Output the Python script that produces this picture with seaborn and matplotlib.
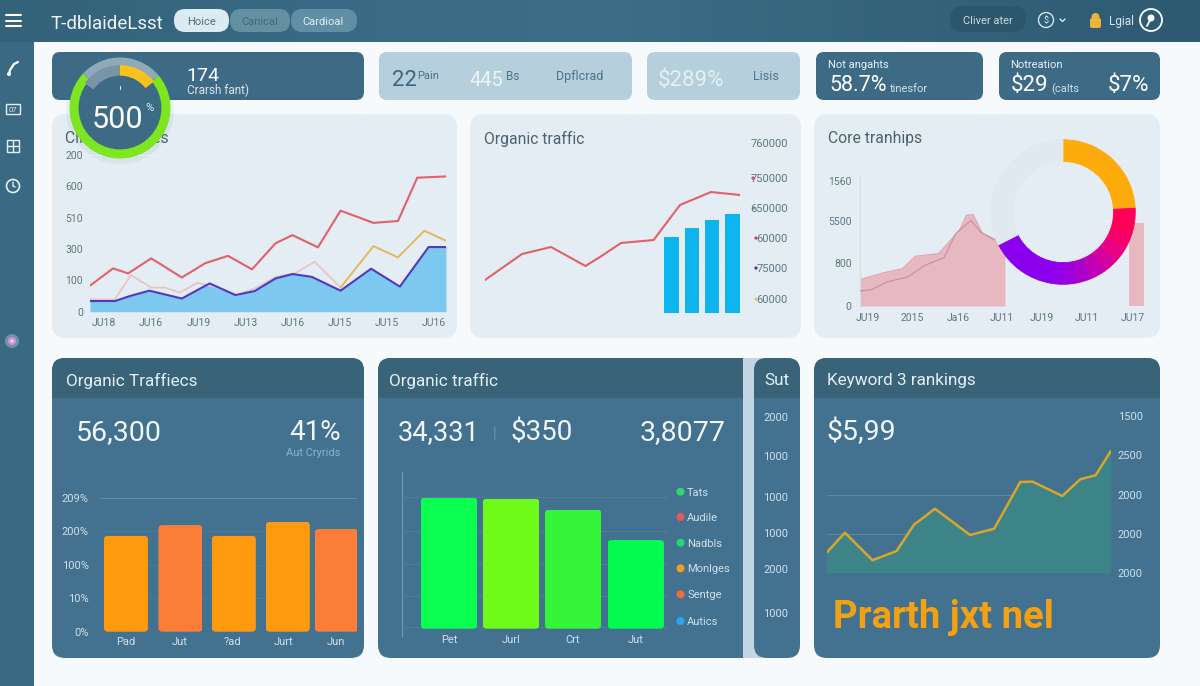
import numpy as np
import matplotlib
matplotlib.use("Agg")
import matplotlib.pyplot as plt
from matplotlib.patches import FancyBboxPatch, Circle, Rectangle
from matplotlib.colors import to_rgb
import seaborn as sns

sns.set_theme(style="white")
plt.rcParams['font.family'] = ['Roboto', 'DejaVu Sans']

# ---------- data ----------
clicks_red_x = [-.30, .19, .51, 1.0, 1.65, 2.14, 2.63, 3.14, 3.64, 4.0, 4.54, 5.02, 5.72, 6.24, 6.65, 7.26]
clicks_red = [83, 138, 122, 170, 109, 154, 178, 135, 218, 244, 205, 322, 283, 289, 427, 431]
clicks_pale_x = [-.30, .23, .57, 1.0, 1.28, 1.61, 1.98, 2.34, 2.83, 3.24, 3.64, 4.05, 4.47, 5.02]
clicks_pale = [39, 39, 117, 77, 77, 61, 92, 80, 53, 77, 111, 122, 159, 77]
clicks_gold_x = [5.02, 5.72, 6.24, 6.80, 7.26]
clicks_gold = [77, 209, 173, 258, 226]
clicks_blue_x = [-.30, .23, .55, .96, 1.65, 2.24, 2.79, 3.20, 3.64, 4.0, 4.41, 5.02, 5.67, 6.28, 6.89, 7.26]
clicks_blue = [34, 34, 50, 67, 42, 90, 53, 66, 106, 120, 111, 67, 137, 80, 206, 206]
clicks_xlabels = ["JU18", "JU16", "JU19", "JU13", "JU16", "JU15", "JU15", "JU16"]
clicks_ylabels = ["0", "100", "300", "510", "600", "200"]

organic_x = [0, 37, 66, 100.5, 115, 136, 168.6, 195, 226, 255]
organic_line = [33, 59, 66, 47, 56, 70, 73, 108, 121, 118]
organic_bar_x = [186.5, 207, 227, 247.5]
organic_bars = [76, 85, 93, 99]
organic_ylabels = ["60000", "75000", "60000", "650000", "750000", "760000"]

core_x = [0, 23, 42.3, 55.5, 78.5, 99.5, 106.5, 113, 122.7, 134, 145]
core_top = [263, 330, 373, 497, 523, 757, 907, 913, 723, 673, 573]
core_right_x = [269, 284]
core_right = [830, 830]
core_inner_x = [0, 11.5, 26.8, 47.8, 65, 84, 95.7, 111, 120.5, 134]
core_inner = [150, 163, 240, 290, 407, 483, 723, 857, 740, 663]
core_ylabels = ["0", "800", "5500", "1560"]
core_xlabels = ["JU19", "2015", "Ja16", "JU11", "JU19", "JU11", "JU17"]

donut_values = [87, 22, 12, 12, 12, 12, 12, 10, 10, 54, 117]
donut_colors = ["#fdaa0a", "#ff0058", "#f6006e", "#e80085", "#d5009d", "#c000b5",
                "#ad00cb", "#9c00dd", "#9000e8", "#8a00ee", "#dfe9ef"]

gauge_ring = [263, 97]
gauge_arc = [52, 55, 253]

traffic_slots = [0, 1, 1.98, 2.97, 3.87]
traffic_bars = [28.7, 31.9, 28.7, 32.9, 30.7]
traffic_colors = ["#ff9a0e", "#fb7d38", "#ff9a0e", "#ff9a0e", "#fb7d38"]
traffic_xlabels = ["Pad", "Jut", "?ad", "Jurt", "Jun"]
traffic_ylabels = ["0%", "10%", "100%", "200%", "209%"]

green_slots = [0, 1, 2, 3.01]
green_bars = [131, 130, 119, 88.7]
green_colors = ["#0aff50", "#6dfb1a", "#35f53a", "#03fa50"]
green_xlabels = ["Pet", "Jurl", "Crt", "Jut"]

legend_labels = ["Tats", "Audile", "Nadbls", "Monlges", "Sentge", "Autics"]
legend_colors = ["#2ed86a", "#e8565e", "#22d873", "#f0a020", "#e8703f", "#22a9ee"]

sut_labels = ["2000", "1000", "1000", "1000", "2000", "1000"]

keyword_x = [0, 18.3, 45.9, 70, 87.2, 108.3, 143.4, 167.6, 193.6, 205.9, 235.7, 253.7, 269, 284.3]
keyword_vals = [256, 512, 159, 278, 611, 819, 483, 563, 1161, 1165, 982, 1196, 1247, 1558]
keyword_ylabels = ["2000", "2000", "2000", "2500", "1500"]

# ---------- figure ----------
W, H = 1200, 686
fig = plt.figure(figsize=(12, 6.86), dpi=100, facecolor="#f6fafd")
bg = fig.add_axes([0, 0, 1, 1], zorder=0)
bg.set_xlim(0, W); bg.set_ylim(H, 0); bg.axis("off")

DARK = "#3d6b86"
BODY = "#42728f"
BAND = "#386378"
LIGHT = "#b6cfdc"
PANEL = "#e3edf3"
INK = "#4d6270"
TICK = "#5f7685"
PALE = "#cfe0ea"


def T(x, y, s, size, color="white", ha="left", va="center_baseline", **kw):
    return bg.text(x, y, s, fontsize=size, color=color, ha=ha, va=va, zorder=6, **kw)


def box(x0, y0, x1, y1, fc, r=8, z=1):
    p = FancyBboxPatch((x0 + r, y0 + r), x1 - x0 - 2 * r, y1 - y0 - 2 * r,
                       boxstyle=f"round,pad={r},rounding_size={r}", fc=fc, ec="none", zorder=z)
    bg.add_patch(p)
    return p


def axes_px(x0, y0, x1, y1, z=2):
    ax = fig.add_axes([x0 / W, 1 - y1 / H, (x1 - x0) / W, (y1 - y0) / H], zorder=z)
    ax.patch.set_alpha(0)
    for s in ax.spines.values():
        s.set_visible(False)
    ax.tick_params(length=0)
    return ax


def round_bars(ax, r):
    ext = ax.get_window_extent()
    (a, b), (c, d) = ax.get_xlim(), ax.get_ylim()
    rx, ry = r * abs(b - a) / ext.width, r * abs(d - c) / ext.height
    for p in ax.patches:
        x, y = p.get_xy()
        w, h = p.get_width(), p.get_height()
        clip = FancyBboxPatch((x + rx, y + ry), w - 2 * rx, h - 2 * ry,
                              boxstyle=f"round,pad={rx},rounding_size={rx}",
                              mutation_aspect=ry / rx, transform=ax.transData)
        p.set_clip_path(clip)


def hgrad(x0, x1, y0, y1, stops, z=0.5):
    n = 200
    pos = np.linspace(0, 1, n)
    cols = np.array([to_rgb(c) for c in stops])
    xp = np.linspace(0, 1, len(stops))
    img = np.stack([np.interp(pos, xp, cols[:, i]) for i in range(3)], axis=1)[None, :, :]
    bg.imshow(img, extent=(x0, x1, y1, y0), aspect="auto", zorder=z)
    bg.set_xlim(0, W); bg.set_ylim(H, 0)


# ---------- chrome ----------
bg.add_patch(Rectangle((0, 0), 34, H, fc="#3a6a83", ec="none", zorder=0.4))
hgrad(0, W, 0, 42, ["#33627a", "#3a6a83", "#3d6e87", "#34637b", "#2e5b73"])
for yy in (15, 20.7, 26):
    bg.plot([6, 21], [yy, yy], color="white", lw=1.5, zorder=6, solid_capstyle="round")
T(51, 22, "T-dblaideLsst", 13.5, "#eef5f8")
box(174, 9, 229, 32, "#dceaf2", r=11, z=2)
box(230, 9, 290, 32, "#64909f", r=11, z=2)
box(291, 9, 357, 32, "#5f8ea5", r=11, z=2)
T(201, 21, "Hoice", 8, "#4f6d7e", ha="center")
T(260, 21, "Canical", 8, "#3f6a7c", ha="center")
T(323, 21, "Cardioal", 8, "#e6f0f4", ha="center")
box(950, 6, 1026, 32, "#2c566c", r=13, z=2)
T(988, 20, "Cliver ater", 8, "#c6d9e2", ha="center")
bg.add_patch(Circle((1046, 20), 7.5, fc="none", ec="#d8e6ec", lw=1, zorder=6))
T(1046, 20, "$", 6.5, "#d8e6ec", ha="center")
bg.plot([1060, 1062.5, 1065], [19, 21.5, 19], color="#d8e6ec", lw=1, zorder=6)
box(1090, 18, 1101, 28, "#e9b43a", r=2, z=6)
bg.add_patch(Circle((1095.5, 17), 4, fc="#e9b43a", ec="none", zorder=6))
T(1109, 20, "Lgial", 8.5, "#dbe8ee")
bg.add_patch(Circle((1151, 20), 11, fc="none", ec="white", lw=1.3, zorder=6))
bg.add_patch(Circle((1151, 18), 3.5, fc="white", ec="none", zorder=6))
bg.plot([1150, 1147], [20, 26], color="white", lw=1.3, zorder=6)

# sidebar icons
bg.plot([9, 10, 14, 18], [75, 70, 64, 62], color="white", lw=1.6, zorder=6)
bg.add_patch(Circle((9, 74), 2, fc="white", ec="none", zorder=6))
bg.add_patch(Rectangle((6, 104), 14, 10, fc="none", ec="#e8f0f4", lw=1, zorder=6))
T(13, 109, "07", 5.5, "#e8f0f4", ha="center")
bg.add_patch(Rectangle((7, 140), 12, 12, fc="none", ec="#e8f0f4", lw=1, zorder=6))
bg.plot([7, 19], [146, 146], color="#e8f0f4", lw=1, zorder=6)
bg.plot([13, 13], [140, 152], color="#e8f0f4", lw=1, zorder=6)
bg.add_patch(Circle((13, 186), 6.5, fc="none", ec="#e8f0f4", lw=1.2, zorder=6))
bg.plot([13, 13, 15], [182, 186, 187], color="#e8f0f4", lw=1, zorder=6)
bg.add_patch(Circle((12, 341), 7, fc="#6e93aa", ec="none", zorder=6))
bg.add_patch(Circle((12, 341), 4, fc="#d58fd0", ec="none", zorder=6.1))
bg.add_patch(Circle((12, 341), 1.5, fc="#f8e8f5", ec="none", zorder=6.2))

# ---------- cards ----------
box(52, 52, 364, 100, DARK)
box(379, 52, 632, 100, LIGHT)
box(647, 52, 800, 100, LIGHT)
box(816, 52, 983, 100, DARK)
box(999, 52, 1160, 100, DARK)
T(186, 74, "174", 14)
T(187, 89, "Crarsh fant)", 8.5, "#d8e6ec")
T(392, 78, "22", 16, "#3d6780")
T(417, 75, "Pain", 8, "#4d7389")
T(470, 78, "445", 14.5, "#eef5f8")
T(506, 75, "Bs", 8.5, "#4d7389")
T(556, 75, "Dpflcrad", 9, "#4d7389")
T(658, 78, "$289%", 16, "#e6f0f4")
T(753, 75, "Lisis", 9, "#4d7389")
T(828, 64, "Not angahts", 8, "#e6f0f4")
T(829, 83, "58.7%", 15.5)
T(890, 88, "tinesfor", 8, "#cfe0ea")
T(1010, 64, "Notreation", 8, "#e6f0f4")
T(1011, 83, "$29", 16)
T(1051, 88, "(calts", 8, "#cfe0ea")
T(1108, 83, "$7%", 16)

# ---------- light panels ----------
for x0, x1 in ((52, 457), (470, 801), (814, 1160)):
    box(x0, 114, x1, 338, PANEL, r=14)
T(65, 137, "Clients queries", 11.3, INK)
T(484, 137, "Organic traffic", 11.3, INK)
T(828, 137, "Core tranhips", 11.3, INK)


def light_grid(ax):
    ax.grid(axis="y", color="#e9f1f5", lw=0.7)
    ax.set_axisbelow(True)


# chart 1
ax = axes_px(90, 146, 446, 311.7)
ax.fill_between(clicks_blue_x, clicks_blue, color="#7cc8ee", lw=0, zorder=1)
sns.lineplot(x=clicks_pale_x, y=clicks_pale, ax=ax, color="#e6c7c6", lw=1.3, sort=False, estimator=None, errorbar=None, zorder=2)
sns.lineplot(x=clicks_gold_x, y=clicks_gold, ax=ax, color="#e5b75e", lw=1.4, sort=False, estimator=None, errorbar=None, zorder=3)
sns.lineplot(x=clicks_blue_x, y=clicks_blue, ax=ax, color="#5038c0", lw=1.5, sort=False, estimator=None, errorbar=None, zorder=4)
sns.lineplot(x=clicks_red_x, y=clicks_red, ax=ax, color="#e0616b", lw=1.5, sort=False, estimator=None, errorbar=None, zorder=5)
ax.set_xlim(-.30, 7.26); ax.set_ylim(0, 528)
ax.set_xticks(range(8), clicks_xlabels, fontsize=7.5, color=TICK)
ax.set_yticks([0, 100, 200, 300, 400, 500], clicks_ylabels, fontsize=7.5, color=TICK)
ax.tick_params(axis="x", pad=4.5); ax.tick_params(axis="y", pad=5)
light_grid(ax)

# chart 2
ax = axes_px(485, 130, 740, 313)
sns.barplot(x=organic_bar_x, y=organic_bars, ax=ax, color="#0db4ee", saturation=1,
            native_scale=True, width=0.74, orient="x", errorbar=None, linewidth=0)
sns.lineplot(x=organic_x, y=organic_line, ax=ax, color="#e0616b", lw=1.5, sort=False, estimator=None, errorbar=None)
ax.set_xlim(0, 255); ax.set_ylim(0, 183)
ax.set_xticks([]); ax.set_xlabel(""); ax.set_ylabel("")
ax.yaxis.tick_right()
ax.set_yticks([14, 45, 75, 105, 135, 170], organic_ylabels, fontsize=8, color=TICK, ha="right")
ax.tick_params(axis="y", pad=34.5)
light_grid(ax)
ax.get_ygridlines()[-1].set_visible(False)
for (xx, yy), c in zip(((753, 178), (754, 208), (756, 238), (756, 268), (756, 299)),
                       ("#e24a5e", "#7fa7b5", "#d8345e", "#4a2db5", "#e8c548")):
    bg.add_patch(Circle((xx, yy), 1.6, fc=c, ec="none", zorder=5))

# chart 3
ax = axes_px(860, 176, 1144, 306)
ax.fill_between(core_x, core_top, color="#e8b8c1", lw=0, zorder=1)
ax.fill_between(core_right_x, core_right, color="#e8b8c1", lw=0, zorder=1)
sns.lineplot(x=core_x, y=core_top, ax=ax, color="#e3a9b2", lw=1, sort=False, estimator=None, errorbar=None, zorder=2)
sns.lineplot(x=core_inner_x, y=core_inner, ax=ax, color="#c9939f", lw=0.9, sort=False, estimator=None, errorbar=None, zorder=3)
ax.set_xlim(0, 284); ax.set_ylim(0, 1300)
ax.set_xticks([8, 52, 98, 142, 182, 227, 273], core_xlabels, fontsize=7.5, color=TICK)
ax.set_yticks([0, 427, 850, 1250], core_ylabels, fontsize=7.5, color=TICK)
ax.tick_params(axis="x", pad=5); ax.tick_params(axis="y", pad=6)
ax.spines["left"].set_visible(True); ax.spines["left"].set_color("#d3e0e8"); ax.spines["left"].set_linewidth(0.8)
light_grid(ax)

# donut
ax = axes_px(990, 139, 1136, 285, z=3)
wedges, _ = ax.pie(donut_values, colors=donut_colors, startangle=90, counterclock=False, radius=1,
                   wedgeprops=dict(width=0.30, linewidth=0.6))
for w in wedges:
    w.set_edgecolor(w.get_facecolor())
ax.set_xlim(-1.01, 1.01); ax.set_ylim(-1.01, 1.01)

# ---------- dark panels ----------
box(52, 358, 364, 658, BODY, r=13)
box(378, 358, 760, 658, BODY, r=13)
bg.add_patch(Rectangle((743, 358), 20, 300, fc="#c5d6e3", ec="none", zorder=1.2))
box(754, 358, 800, 658, BODY, r=13, z=1.3)
box(814, 358, 1160, 658, BODY, r=13)


def band(x0, x1):
    r = 13
    p = FancyBboxPatch((x0 + r, 358 + r), x1 - x0 - 2 * r, 10, boxstyle=f"round,pad={r},rounding_size={r}",
                       fc=BAND, ec="none", zorder=1.4)
    bg.add_patch(p)
    p.set_clip_path(Rectangle((x0, 358), x1 - x0, 40, transform=bg.transData))
    bg.add_patch(Rectangle((x0, 371), x1 - x0, 27, fc=BAND, ec="none", zorder=1.4))


band(52, 364); band(378, 743); band(754, 800); band(814, 1160)
bg.add_patch(Rectangle((730, 358), 13, 40, fc=BAND, ec="none", zorder=1.45))
bg.add_patch(Rectangle((730, 398), 13, 260, fc=BODY, ec="none", zorder=1.45))

T(66, 379, "Organic Traffiecs", 12.3, "#e6f0f4")
T(389, 379, "Organic traffic", 12.3, "#e6f0f4")
T(777, 379, "Sut", 12.3, "#e6f0f4", ha="center")
T(827, 379, "Keyword 3 rankings", 12.3, "#e6f0f4")
T(76, 430, "56,300", 20.5, "#f1f6f8")
T(289, 430, "41%", 20, "#f1f6f8")
T(313, 452, "Aut Cryrids", 8, "#7fb5d2", ha="center")
T(398, 430, "34,331", 19.5, "#f1f6f8")
T(495, 432, "|", 11, "#6d97ad", ha="center")
T(511, 430, "$350", 20, "#f1f6f8")
T(640, 430, "3,8077", 20.5, "#f1f6f8")
T(827, 429, "$5,99", 20.5, "#f1f6f8")
T(833, 613, "Prarth jxt nel", 27.5, "#f2a014", fontweight="bold")

# orange bars
ax = axes_px(100, 490, 357, 631.7)
sns.barplot(x=traffic_slots, y=traffic_bars, ax=ax, color="#ff9a0e", saturation=1,
            native_scale=True, width=0.897, orient="x", errorbar=None, linewidth=0)
for p, c in zip(ax.patches, traffic_colors):
    p.set_facecolor(c)
ax.set_xlim(-0.476, 4.24); ax.set_ylim(0, 42.4)
ax.set_xlabel(""); ax.set_ylabel("")
ax.set_xticks([0, 0.99, 1.95, 2.9, 3.85], traffic_xlabels, fontsize=8, color=PALE)
ax.set_yticks([0, 10, 20, 30, 40], traffic_ylabels, fontsize=8, color=PALE)
ax.tick_params(axis="x", pad=4); ax.tick_params(axis="y", pad=8)
ax.grid(axis="y", color="#5f8ca6", lw=0.8); ax.set_axisbelow(True)
for g in ax.get_ygridlines()[:-1]:
    g.set_color("#4a7a96")
round_bars(ax, 4)

# green bars
ax = axes_px(402, 472, 668, 636)
sns.barplot(x=green_slots, y=green_bars, ax=ax, color="#0aff50", saturation=1,
            native_scale=True, width=0.91, orient="x", errorbar=None, linewidth=0)
for p, c in zip(ax.patches, green_colors):
    p.set_facecolor(c)
ax.set_xlim(-0.758, 3.53); ax.set_ylim(-7.3, 156.7)
ax.set_xlabel(""); ax.set_ylabel("")
ax.set_xticks([0, 1, 2, 3.01], green_xlabels, fontsize=8, color=PALE)
ax.set_yticks([1.5, 33, 65, 98, 132], [])
ax.tick_params(axis="x", pad=-1)
ax.spines["left"].set_visible(True); ax.spines["left"].set_color("#6f9ab0"); ax.spines["left"].set_linewidth(0.8)
ax.grid(axis="y", color="#4c7c97", lw=0.8); ax.set_axisbelow(True)
round_bars(ax, 4)

# legend
for yy, lab, c in zip((491.7, 517, 542.7, 568.3, 594.3, 621), legend_labels, legend_colors):
    bg.add_patch(Circle((680.5, yy), 4, fc=c, ec="none", zorder=6))
    T(687, yy, lab, 8, PALE)

# Sut tick column
for yy, lab in zip((417.3, 456.3, 496.7, 533, 569.3, 613.3), sut_labels):
    T(776, yy, lab, 8, PALE, ha="center")

# keyword line
ax = axes_px(826.6, 410, 1110.9, 572.7)
ax.fill_between(keyword_x, keyword_vals, color="#3d8488", lw=0, zorder=1)
sns.lineplot(x=keyword_x, y=keyword_vals, ax=ax, color="#d9a52b", lw=1.8, sort=False, estimator=None, errorbar=None, zorder=3)
ax.set_xlim(0, 284.3); ax.set_ylim(0, 2082)
ax.set_xticks([]); ax.set_xlabel(""); ax.set_ylabel("")
ax.yaxis.tick_right()
ax.set_yticks([0, 500, 1000, 1500, 2000], keyword_ylabels, fontsize=8, color=PALE)
ax.tick_params(axis="y", pad=5)
ax.grid(axis="y", color="#5b8aa3", lw=0.7); ax.set_axisbelow(True)
for i, g in enumerate(ax.get_ygridlines()):
    g.set_visible(i in (1, 2))

# gauge
bg.add_patch(Circle((120, 110), 54, fc="#3d6b86", alpha=0.07, ec="none", zorder=4))
ax = axes_px(69.5, 57, 170.5, 159, z=5)
ax.add_patch(Circle((0, 0), 0.99, fc=DARK, ec="none", zorder=0))
ax.pie(gauge_ring, colors=["#7ee61e", "#8ea9b7"], startangle=137, counterclock=True, radius=1,
       wedgeprops=dict(width=0.18, linewidth=0))
ax.pie(gauge_arc, colors=["#fbc21b", "#7895a6", (0, 0, 0, 0)], startangle=38, counterclock=True, radius=0.85,
       wedgeprops=dict(width=0.21, linewidth=0))
ax.set_xlim(-1, 1); ax.set_ylim(-1, 1)
ax.plot([0, 0], [.37, .44], color="#d8e6ec", lw=0.8)
ax.text(-0.05, -0.17, "500", fontsize=22, color="white", ha="center", va="center_baseline")
ax.text(0.58, 0.02, "%", fontsize=8, color="#e6f0f4", ha="center", va="center_baseline")

fig.savefig("out.png", dpi=100, facecolor=fig.get_facecolor())
